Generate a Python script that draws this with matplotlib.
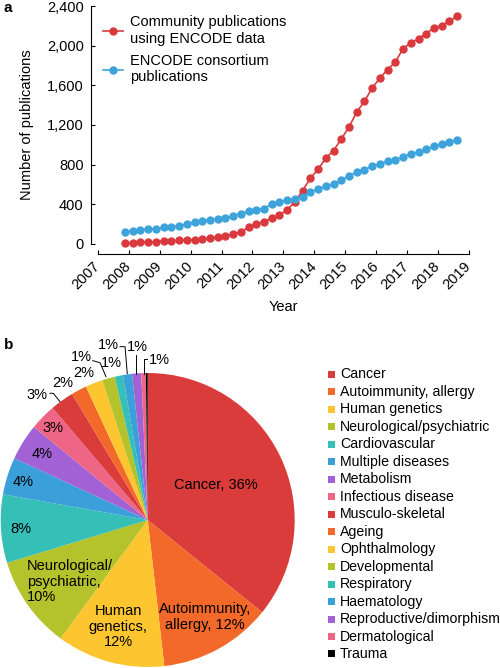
import matplotlib
matplotlib.use('Agg')
import matplotlib.pyplot as plt
from matplotlib.patches import Rectangle
from matplotlib.ticker import FuncFormatter

plt.rcParams['font.family'] = ['Liberation Sans', 'DejaVu Sans']
plt.rcParams['font.size'] = 10

# ---------------- data: panel a ----------------
dates = [2007.875, 2008.125, 2008.375, 2008.625, 2008.875, 2009.125, 2009.375, 2009.625,
         2009.875, 2010.125, 2010.375, 2010.625, 2010.875, 2011.125, 2011.375, 2011.625,
         2011.875, 2012.125, 2012.375, 2012.625, 2012.875, 2013.125, 2013.375, 2013.625,
         2013.875, 2014.125, 2014.375, 2014.625, 2014.875, 2015.125, 2015.375, 2015.625,
         2015.875, 2016.125, 2016.375, 2016.625, 2016.875, 2017.125, 2017.375, 2017.625,
         2017.875, 2018.125, 2018.375, 2018.625]
community = [4, 4, 14, 14, 17, 30, 30, 34, 37, 41, 48, 55, 65, 78, 98, 121,
             164, 200, 223, 257, 291, 342, 425, 537, 662, 753, 865, 942, 1058, 1179,
             1331, 1439, 1574, 1675, 1760, 1837, 1972, 2030, 2074, 2124, 2182, 2205,
             2249, 2300]
consortium = [121, 132, 139, 149, 149, 166, 172, 179, 200, 223, 230, 240, 253, 263, 285, 305,
              328, 345, 355, 402, 422, 443, 453, 476, 521, 551, 584, 605, 645, 686,
              723, 747, 787, 807, 835, 848, 881, 909, 929, 956, 983, 1003, 1033, 1050]
series_names = ['Community publications\nusing ENCODE data',
                'ENCODE consortium\npublications']
year_ticks = [2007, 2008, 2009, 2010, 2011, 2012, 2013, 2014, 2015, 2016, 2017, 2018, 2019]
y_ticks = [0, 400, 800, 1200, 1600, 2000, 2400]

# ---------------- data: panel b ----------------
categories = ['Cancer', 'Autoimmunity, allergy', 'Human genetics', 'Neurological/psychiatric',
              'Cardiovascular', 'Multiple diseases', 'Metabolism', 'Infectious disease',
              'Musculo-skeletal', 'Ageing', 'Ophthalmology', 'Developmental', 'Respiratory',
              'Haematology', 'Reproductive/dimorphism', 'Dermatological', 'Trauma']
shares = [35.8, 12.4, 11.9, 10.2, 7.5, 4.1, 4.0, 2.9, 2.6, 1.7, 1.9, 1.4, 0.9, 1.0, 1.0, 0.5, 0.2]
slice_labels = ['Cancer, 36%', 'Autoimmunity,\nallergy, 12%', 'Human\ngenetics,\n12%',
                'Neurological/\npsychiatric,\n10%', '8%', '4%', '4%', '3%', '3%', '2%', '2%',
                '1%', '1%', '1%', '1%', '1%', '']

RED = '#D9393D'
BLUE = '#3DA3DB'
pie_colors = ['#DA3B3B', '#F2692A', '#FDC631', '#B4C22C', '#35BFB7', '#3B9FDA', '#A262D5',
              '#EE6585', '#DA3B3B', '#F2692A', '#FDC631', '#B4C22C', '#35BFB7', '#3B9FDA',
              '#A262D5', '#EE6585', '#000000']

W, H = 500, 668
fig = plt.figure(figsize=(W / 100, H / 100), dpi=100)


def fx(px):
    return px / W


def fy(py):
    return 1 - py / H


# ---------------- panel a ----------------
ax = fig.add_axes([fx(98), fy(243.7), fx(468.7) - fx(98), fy(6.3) - fy(243.7)])
ax.plot(dates, community, '-o', color=RED, ms=5, lw=1.2, clip_on=False, label=series_names[0])
ax.plot(dates, consortium, '-o', color=BLUE, ms=5, lw=1.2, clip_on=False, label=series_names[1])
ax.set_xlim(2007, 2019)
ax.set_ylim(0, 2400)
ax.set_xticks(year_ticks)
ax.set_yticks(y_ticks)
ax.yaxis.set_major_formatter(FuncFormatter(lambda v, p: f'{int(v):,}'))
for s in ['top', 'right']:
    ax.spines[s].set_visible(False)
ax.spines['left'].set_position(('outward', 5.3))
ax.spines['bottom'].set_position(('outward', 7.4))
ax.spines['left'].set_bounds(0, 2400)
ax.spines['bottom'].set_bounds(2007, 2019)
for s in ['left', 'bottom']:
    ax.spines[s].set_linewidth(0.8)
ax.tick_params(axis='both', direction='in', length=3, width=0.8, labelsize=10.5)
ax.tick_params(axis='y', pad=5)
ax.tick_params(axis='x', pad=7)
for lab in ax.get_xticklabels():
    lab.set_rotation(45)
    lab.set_ha('right')
    lab.set_va('center')
    lab.set_rotation_mode('anchor')
ax.set_xlabel('Year', fontsize=10.5, labelpad=6)
ax.set_ylabel('Number of publications', fontsize=10.5, labelpad=9)
ax.legend(loc='upper left', bbox_to_anchor=(0.0135, 0.962), frameon=False, fontsize=10.5,
          handlelength=1.4, handletextpad=0.45, labelspacing=0.6, borderpad=0, borderaxespad=0)
fig.text(fx(4), fy(8), 'a', fontsize=11, fontweight='bold', va='center')

# ---------------- panel b ----------------
R = 147
axp = fig.add_axes([fx(147.7 - R), fy(520 + R), fx(2 * R), (2 * R) / H])
wedges, _ = axp.pie(shares, colors=pie_colors, startangle=90, counterclock=False,
                    wedgeprops=dict(linewidth=0))
axp.set_xlim(-1, 1)
axp.set_ylim(-1, 1)
axp.set_aspect('equal')
axp.axis('off')

# label layout (pie units)
label_pos = [(0.465, 0.238, 'center'), (0.39, -0.658, 'center'), (-0.2, -0.726, 'center'),
             (-0.823, -0.42, 'left'), (-0.863, -0.063, 'center'), (-0.846, 0.256, 'center'),
             (-0.721, 0.447, 'center'), (-0.646, 0.624, 'center'), (-0.755, 0.850, 'center'),
             (-0.576, 0.930, 'center'), (-0.435, 0.998, 'center'), (-0.454, 1.111, 'center'),
             (-0.25, 1.066, 'center'), (-0.268, 1.190, 'center'), (-0.069, 1.179, 'center'),
             (0.077, 1.088, 'center'), (0, 0, 'center')]
for txt, (u, v, ha) in zip(slice_labels, label_pos):
    if txt:
        axp.text(u, v, txt, ha=ha, va='center', fontsize=10.5, linespacing=1.15,
                 clip_on=False)

leaders = [
    [(-0.665, 0.862), (-0.642, 0.862), (-0.597, 0.805)],
    [(-0.374, 1.084), (-0.324, 1.070), (-0.284, 0.975)],
    [(-0.188, 1.179), (-0.154, 1.179), (-0.139, 0.995)],
    [(-0.080, 1.122), (-0.080, 0.995)],
    [(-0.005, 1.093), (-0.025, 1.093), (-0.025, 0.995)],
]
for pts in leaders:
    xs = [p[0] for p in pts]
    ys = [p[1] for p in pts]
    axp.plot(xs, ys, color='black', lw=0.7, clip_on=False)

fig.text(fx(4), fy(345), 'b', fontsize=11, fontweight='bold', va='center')

# legend for panel b
row0, step = 374.3, 17.48
sq = 7
for i, (name, col) in enumerate(zip(categories, pie_colors)):
    yc = row0 + i * step
    fig.add_artist(Rectangle((fx(328.3), fy(yc + sq / 2)), sq / W, sq / H,
                             transform=fig.transFigure, facecolor=col, edgecolor='none'))
    fig.text(fx(340), fy(yc), name, fontsize=10.2, va='center', ha='left')

fig.savefig('out.png', dpi=100)
